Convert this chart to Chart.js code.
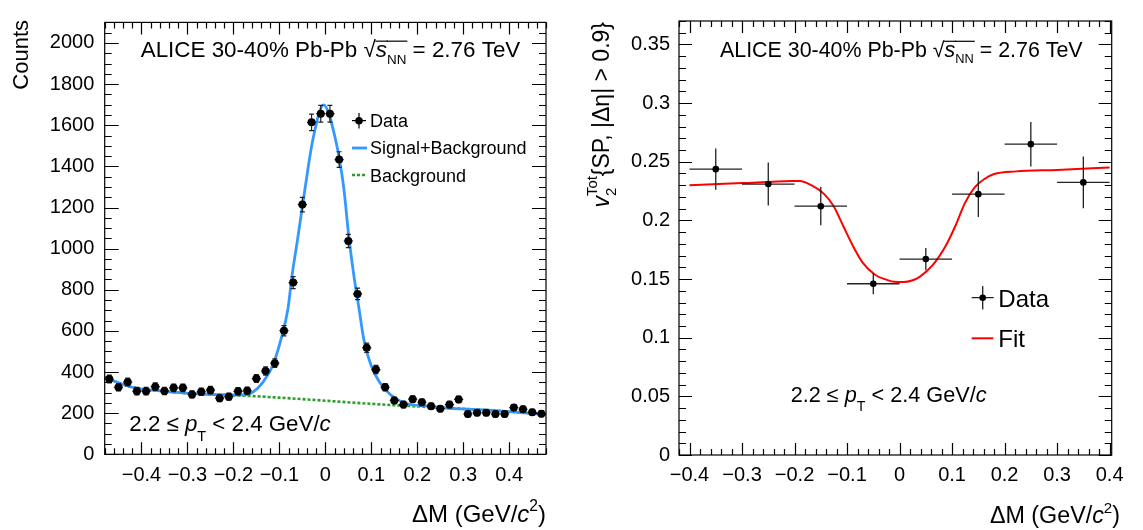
<!DOCTYPE html>
<html>
<head>
<meta charset="utf-8">
<script src="https://cdn.jsdelivr.net/npm/chart.js@4.4.0/dist/chart.umd.min.js"></script>
<style>
  html, body { margin: 0; padding: 0; background: #fff; }
  #wrap { position: relative; width: 1143px; height: 530px; overflow: hidden; }
  canvas { position: absolute; top: 0; }
  #massChart { left: 0; }
  #v2Chart { left: 580px; }
</style>
</head>
<body>
<div id="wrap">
  <canvas id="massChart" width="580" height="530"></canvas>
  <canvas id="v2Chart" width="563" height="530"></canvas>
</div>
<script>
const FONT = '"Liberation Sans", Arial, Helvetica, sans-serif';

// ---- left panel: invariant mass distribution ----
const massBins = [-0.47, -0.45, -0.43, -0.41, -0.39, -0.37, -0.35, -0.33, -0.31, -0.29, -0.27, -0.25,
  -0.23, -0.21, -0.19, -0.17, -0.15, -0.13, -0.11, -0.09, -0.07, -0.05, -0.03, -0.01,
  0.01, 0.03, 0.05, 0.07, 0.09, 0.11, 0.13, 0.15, 0.17, 0.19, 0.21, 0.23,
  0.25, 0.27, 0.29, 0.31, 0.33, 0.35, 0.37, 0.39, 0.41, 0.43, 0.45, 0.47];
const massCounts = [366, 326, 351, 307, 307, 329, 308, 323, 323, 291, 304, 312,
  273, 280, 306, 309, 368, 405, 443, 601, 835, 1214, 1614, 1656,
  1656, 1433, 1037, 780, 518, 412, 326, 262, 242, 268, 253, 234,
  222, 242, 267, 196, 202, 202, 196, 196, 227, 219, 204, 197];
const massErrors = [19, 18, 19, 18, 18, 18, 18, 18, 18, 17, 18, 18,
  17, 17, 18, 18, 19, 20, 21, 25, 29, 35, 40, 41,
  41, 38, 32, 28, 23, 20, 18, 16, 16, 16, 16, 15,
  15, 16, 16, 14, 14, 14, 14, 14, 15, 15, 14, 14];
const massBinHalf = [0.01, 0.01, 0.01, 0.01, 0.01, 0.01, 0.01, 0.01, 0.01, 0.01, 0.01, 0.01,
  0.01, 0.01, 0.01, 0.01, 0.01, 0.01, 0.01, 0.01, 0.01, 0.01, 0.01, 0.01,
  0.01, 0.01, 0.01, 0.01, 0.01, 0.01, 0.01, 0.01, 0.01, 0.01, 0.01, 0.01,
  0.01, 0.01, 0.01, 0.01, 0.01, 0.01, 0.01, 0.01, 0.01, 0.01, 0.01, 0.01];

// signal+background fit
const sigBgX = [-0.48, -0.42, -0.35, -0.27, -0.20, -0.17, -0.157, -0.136, -0.115, -0.097, -0.081, -0.073,
  -0.0595, -0.044, -0.027, -0.004, 0.022, 0.040, 0.051, 0.062, 0.073, 0.084, 0.100, 0.118,
  0.143, 0.176, 0.234, 0.25, 0.36, 0.47, 0.48];
const sigBgY = [373, 326, 306, 293, 289, 290, 303, 350, 429, 555, 712, 860,
  1059, 1296, 1532, 1699, 1532, 1296, 1059, 870, 712, 555, 429, 350,
  287, 247, 232, 227, 214, 195, 194];
// background only
const bgX = [-0.48, -0.42, -0.35, -0.27, -0.20, -0.15, 0.14, 0.25, 0.36, 0.48];
const bgY = [373, 326, 306, 293, 287, 282, 240, 227, 214, 194];

const massTicks = [-0.4, -0.3, -0.2, -0.1, 0, 0.1, 0.2, 0.3, 0.4];
const massTickLabels = ['\u22120.4', '\u22120.3', '\u22120.2', '\u22120.1', '0', '0.1', '0.2', '0.3', '0.4'];
const countTicks = [0, 200, 400, 600, 800, 1000, 1200, 1400, 1600, 1800, 2000];
const countTickLabels = ['0', '200', '400', '600', '800', '1000', '1200', '1400', '1600', '1800', '2000'];

// ---- right panel: v2 vs mass ----
const v2Bins = [-0.35, -0.25, -0.15, -0.05, 0.05, 0.15, 0.25, 0.35];
const v2Values = [0.2437, 0.231, 0.2121, 0.146, 0.167, 0.2224, 0.265, 0.2324];
const v2Errors = [0.0175, 0.0183, 0.0163, 0.009, 0.0095, 0.0194, 0.019, 0.022];
const v2BinHalf = [0.05, 0.05, 0.05, 0.05, 0.05, 0.05, 0.05, 0.05];
const v2FitX = [-0.40, -0.30, -0.205, -0.19, -0.168, -0.144, -0.126, -0.107, -0.089, -0.071, -0.046,
  -0.025, -0.010, 0.008, 0.025, 0.039, 0.063, 0.088, 0.106, 0.124, 0.143, 0.161, 0.18,
  0.222, 0.30, 0.40];
const v2FitY = [0.2299, 0.2318, 0.2335, 0.2336, 0.2300, 0.2226, 0.2125, 0.1950, 0.1784, 0.1645, 0.1535,
  0.1495, 0.1476, 0.1474, 0.1490, 0.1521, 0.1618, 0.1784, 0.1950, 0.2143, 0.2281, 0.2351, 0.2395,
  0.2418, 0.2430, 0.2451];

const v2TicksX = [-0.4, -0.3, -0.2, -0.1, 0, 0.1, 0.2, 0.3, 0.4];
const v2TickLabelsX = ['\u22120.4', '\u22120.3', '\u22120.2', '\u22120.1', '0', '0.1', '0.2', '0.3', '0.4'];
const v2TicksY = [0, 0.05, 0.1, 0.15, 0.2, 0.25, 0.3, 0.35];
const v2TickLabelsY = ['0', '0.05', '0.1', '0.15', '0.2', '0.25', '0.3', '0.35'];

// draw a run of text pieces (italic, sub/superscript, sqrt bar)
function drawRich(ctx, parts, x, y, size, align, rot) {
  ctx.save();
  ctx.translate(x, y);
  if (rot) ctx.rotate(rot);
  ctx.textBaseline = 'alphabetic';
  ctx.textAlign = 'left';
  ctx.fillStyle = '#000';
  const fontOf = (p) => (p.it ? 'italic ' : '') + (size * (p.sc || 1)) + 'px ' + FONT;
  const widths = parts.map(p => {
    ctx.font = fontOf(p);
    if (p.sub !== undefined) {
      return Math.max(ctx.measureText(p.sub).width, ctx.measureText(p.sup).width);
    }
    return ctx.measureText(p.t).width;
  });
  const total = widths.reduce((a, b) => a + b, 0);
  let cx = align === 'right' ? -total : (align === 'center' ? -total / 2 : 0);
  parts.forEach((p, i) => {
    ctx.font = fontOf(p);
    if (p.sub !== undefined) {
      ctx.fillText(p.sub, cx, size * p.subDy);
      ctx.fillText(p.sup, cx, -size * p.supDy);
    } else {
      ctx.fillText(p.t, cx, (p.dy || 0) * size);
    }
    if (p.bar) {
      ctx.strokeStyle = '#000';
      ctx.lineWidth = 1.2;
      ctx.beginPath();
      ctx.moveTo(cx - 0.5, -size * 0.72);
      ctx.lineTo(cx + widths[i] + 1, -size * 0.72);
      ctx.stroke();
    }
    cx += widths[i];
  });
  ctx.restore();
}

const headerParts = [
  { t: 'ALICE 30-40% Pb-Pb ' }, { t: '\u221A' }, { t: 's', it: true, bar: true },
  { t: 'NN', sc: 0.6, dy: 0.28, bar: true }, { t: ' = 2.76 TeV' }
];
const ptParts = [
  { t: '2.2 \u2264 ' }, { t: 'p', it: true }, { t: 'T', sc: 0.65, dy: 0.45 },
  { t: ' < 2.4 GeV/' }, { t: 'c', it: true }
];
const massTitleParts = [
  { t: '\u0394M (GeV/' }, { t: 'c', it: true }, { t: '2', sc: 0.65, dy: -0.45 }, { t: ')' }
];
const v2TitleParts = [
  { t: 'v', it: true }, { sub: '2', sup: 'Tot', sc: 0.65, subDy: 0.3, supDy: 0.55 },
  { t: '{SP, |\u0394\u03B7| > 0.9}' }
];

// error bars drawn right before the data points
const errorBars = {
  id: 'errorBars',
  beforeDatasetDraw(chart, args) {
    const ds = chart.data.datasets[args.index];
    if (!ds.errY) return;
    const { ctx, scales: { x, y } } = chart;
    ctx.save();
    ctx.strokeStyle = ds.errColor;
    ctx.lineWidth = ds.errWidth;
    ds.data.forEach((p, i) => {
      const px = x.getPixelForValue(p.x);
      const py = y.getPixelForValue(p.y);
      const x0 = x.getPixelForValue(p.x - ds.errX[i]);
      const x1 = x.getPixelForValue(p.x + ds.errX[i]);
      const y0 = y.getPixelForValue(p.y - ds.errY[i]);
      const y1 = y.getPixelForValue(p.y + ds.errY[i]);
      ctx.beginPath();
      ctx.moveTo(x0, py); ctx.lineTo(x1, py);
      ctx.moveTo(px, y0); ctx.lineTo(px, y1);
      if (ds.errCap) {
        ctx.moveTo(px - ds.errCap, y0); ctx.lineTo(px + ds.errCap, y0);
        ctx.moveTo(px - ds.errCap, y1); ctx.lineTo(px + ds.errCap, y1);
      }
      ctx.stroke();
    });
    ctx.restore();
  }
};

// ROOT-like frame with inward ticks on all four sides
const rootFrame = {
  id: 'rootFrame',
  afterDraw(chart, args, o) {
    const { ctx, chartArea: a, scales: { x, y } } = chart;
    ctx.save();
    ctx.strokeStyle = '#000';
    ctx.lineWidth = 1.2;
    ctx.strokeRect(a.left, a.top, a.right - a.left, a.bottom - a.top);
    ctx.beginPath();
    const isMajor = (v, list) => list.some(m => Math.abs(m - v) < 1e-9);
    for (let k = Math.ceil(x.min / o.xMinor - 1e-9); k * o.xMinor <= x.max + 1e-9; k++) {
      const v = k * o.xMinor;
      const px = Math.round(x.getPixelForValue(v)) + 0.5;
      const len = isMajor(v, o.xMajor) ? o.xMajorLen : o.xMinorLen;
      ctx.moveTo(px, a.bottom); ctx.lineTo(px, a.bottom - len);
      ctx.moveTo(px, a.top); ctx.lineTo(px, a.top + len);
    }
    for (let k = Math.ceil(y.min / o.yMinor - 1e-9); k * o.yMinor <= y.max + 1e-9; k++) {
      const v = k * o.yMinor;
      const py = Math.round(y.getPixelForValue(v)) + 0.5;
      const len = isMajor(v, o.yMajor) ? o.yMajorLen : o.yMinorLen;
      ctx.moveTo(a.left, py); ctx.lineTo(a.left + len, py);
      ctx.moveTo(a.right, py); ctx.lineTo(a.right - len, py);
    }
    ctx.stroke();
    ctx.restore();
  }
};

function axisOptions(xMin, xMax, xTicks, xLabels, yMin, yMax, yTicks, yLabels, yWidth, xHeight, yPad, xPad) {
  const tickFont = { family: FONT, size: 20 };
  return {
    x: {
      type: 'linear', min: xMin, max: xMax,
      grid: { display: false, drawTicks: false }, border: { display: false },
      afterBuildTicks: s => { s.ticks = xTicks.map(v => ({ value: v })); },
      afterFit: s => { s.height = xHeight; },
      ticks: { color: '#000', font: tickFont, padding: xPad, maxRotation: 0, autoSkip: false,
        callback: (v, i) => xLabels[i] }
    },
    y: {
      type: 'linear', min: yMin, max: yMax,
      grid: { display: false, drawTicks: false }, border: { display: false },
      afterBuildTicks: s => { s.ticks = yTicks.map(v => ({ value: v })); },
      afterFit: s => { s.width = yWidth; },
      ticks: { color: '#000', font: tickFont, padding: yPad, autoSkip: false,
        callback: (v, i) => yLabels[i] }
    }
  };
}

// ---- left chart ----
const massText = {
  id: 'massText',
  afterDraw(chart) {
    const ctx = chart.ctx;
    drawRich(ctx, headerParts, 140.7, 57.3, 22.4, 'left');
    drawRich(ctx, ptParts, 129.3, 430.7, 22.3, 'left');
    drawRich(ctx, massTitleParts, 546, 522, 24, 'right');
    drawRich(ctx, [{ t: 'Counts' }], 28, 20, 22, 'right', -Math.PI / 2);
    // legend
    ctx.save();
    ctx.strokeStyle = '#000'; ctx.lineWidth = 1.2;
    ctx.beginPath();
    ctx.moveTo(352, 120.7); ctx.lineTo(366, 120.7);
    ctx.moveTo(359, 113); ctx.lineTo(359, 128.5);
    ctx.stroke();
    ctx.fillStyle = '#000';
    ctx.beginPath(); ctx.arc(359, 120.7, 3.8, 0, Math.PI * 2); ctx.fill();
    ctx.strokeStyle = '#3399ff'; ctx.lineWidth = 2.8;
    ctx.beginPath(); ctx.moveTo(352, 148); ctx.lineTo(367, 148); ctx.stroke();
    ctx.strokeStyle = '#2e9e2a'; ctx.lineWidth = 2.6; ctx.setLineDash([3, 2]);
    ctx.beginPath(); ctx.moveTo(352, 175); ctx.lineTo(367, 175); ctx.stroke();
    ctx.restore();
    drawRich(ctx, [{ t: 'Data' }], 370, 127.3, 18, 'left');
    drawRich(ctx, [{ t: 'Signal+Background' }], 370, 154.3, 18, 'left');
    drawRich(ctx, [{ t: 'Background' }], 370, 181.7, 18, 'left');
  }
};

new Chart(document.getElementById('massChart'), {
  type: 'line',
  data: {
    datasets: [
      {
        label: 'Data',
        data: massBins.map((x, i) => ({ x: x, y: massCounts[i] })),
        showLine: false, pointRadius: 4, pointBackgroundColor: '#000', pointBorderWidth: 0,
        errX: massBinHalf, errY: massErrors, errColor: '#222', errWidth: 1.2, errCap: 2.5
      },
      {
        label: 'Signal+Background',
        data: sigBgX.map((x, i) => ({ x: x, y: sigBgY[i] })),
        borderColor: '#3399ff', borderWidth: 2.8, pointRadius: 0, cubicInterpolationMode: 'monotone'
      },
      {
        label: 'Background',
        data: bgX.map((x, i) => ({ x: x, y: bgY[i] })),
        borderColor: '#2e9e2a', borderWidth: 2.6, borderDash: [3, 2], pointRadius: 0,
        cubicInterpolationMode: 'monotone'
      }
    ]
  },
  options: {
    responsive: false, animation: false,
    layout: { padding: { left: 0, right: 580 - 546, top: 10, bottom: 0 } },
    plugins: {
      legend: { display: false }, tooltip: { enabled: false },
      rootFrame: { xMinor: 0.02, xMajor: massTicks, yMinor: 50, yMajor: countTicks,
        xMajorLen: 12, xMinorLen: 6, yMajorLen: 14, yMinorLen: 7 }
    },
    scales: axisOptions(-0.48, 0.48, massTicks, massTickLabels, 0, 2100, countTicks, countTickLabels,
      104.7, 530 - 454.3, 10.4, 9)
  },
  plugins: [errorBars, rootFrame, massText]
});

// ---- right chart ----
const OX = 580;
const v2Text = {
  id: 'v2Text',
  afterDraw(chart) {
    const ctx = chart.ctx;
    drawRich(ctx, headerParts, 720 - OX, 56.7, 21.4, 'left');
    drawRich(ctx, ptParts, 790.7 - OX, 401.7, 21.7, 'left');
    drawRich(ctx, massTitleParts, 1120 - OX, 523, 23.3, 'right');
    drawRich(ctx, v2TitleParts, 609.3 - OX, 22, 23, 'right', -Math.PI / 2);
    ctx.save();
    ctx.strokeStyle = '#222'; ctx.lineWidth = 1.3;
    ctx.beginPath();
    ctx.moveTo(971.7 - OX, 297.7); ctx.lineTo(993.7 - OX, 297.7);
    ctx.moveTo(982.7 - OX, 286); ctx.lineTo(982.7 - OX, 309.5);
    ctx.stroke();
    ctx.fillStyle = '#000';
    ctx.beginPath(); ctx.arc(982.7 - OX, 297.7, 3.3, 0, Math.PI * 2); ctx.fill();
    ctx.strokeStyle = '#ff0000'; ctx.lineWidth = 2;
    ctx.beginPath(); ctx.moveTo(971.7 - OX, 338.3); ctx.lineTo(993.3 - OX, 338.3); ctx.stroke();
    ctx.restore();
    drawRich(ctx, [{ t: 'Data' }], 998.3 - OX, 306.7, 24, 'left');
    drawRich(ctx, [{ t: 'Fit' }], 998.3 - OX, 347.3, 24, 'left');
  }
};

new Chart(document.getElementById('v2Chart'), {
  type: 'line',
  data: {
    datasets: [
      {
        label: 'Data',
        data: v2Bins.map((x, i) => ({ x: x, y: v2Values[i] })),
        showLine: false, pointRadius: 3.3, pointBackgroundColor: '#000', pointBorderWidth: 0,
        errX: v2BinHalf, errY: v2Errors, errColor: '#222', errWidth: 1.3, errCap: 0
      },
      {
        label: 'Fit',
        data: v2FitX.map((x, i) => ({ x: x, y: v2FitY[i] })),
        borderColor: '#ff0000', borderWidth: 2, pointRadius: 0, cubicInterpolationMode: 'monotone'
      }
    ]
  },
  options: {
    responsive: false, animation: false,
    layout: { padding: { left: 0, right: 563 - (1111.7 - OX), top: 10, bottom: 0 } },
    plugins: {
      legend: { display: false }, tooltip: { enabled: false },
      rootFrame: { xMinor: 0.02, xMajor: v2TicksX, yMinor: 0.01, yMajor: v2TicksY,
        xMajorLen: 12, xMinorLen: 6, yMajorLen: 13, yMinorLen: 7 }
    },
    scales: axisOptions(-0.42, 0.404, v2TicksX, v2TickLabelsX, 0, 0.37, v2TicksY, v2TickLabelsY,
      679 - OX, 530 - 455, 9, 8.5)
  },
  plugins: [errorBars, rootFrame, v2Text]
});
</script>
</body>
</html>
